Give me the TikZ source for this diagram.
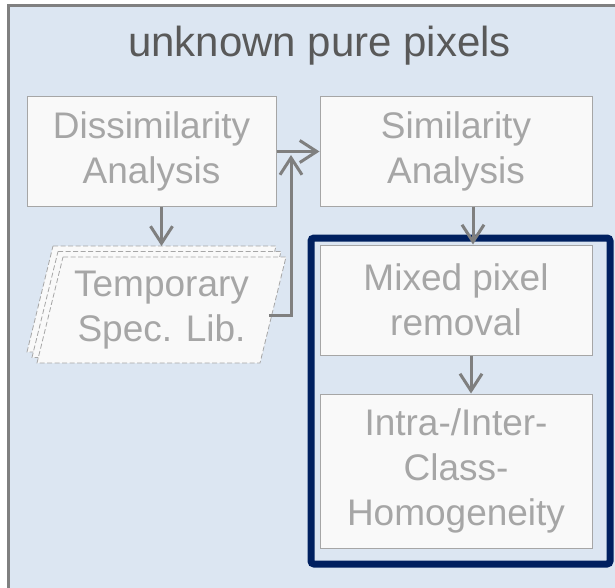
\documentclass[tikz,border=0pt]{standalone}
\usepackage{fontspec}
\setmainfont{Liberation Sans}
\usetikzlibrary{arrows.meta, positioning}
\definecolor{panelfill}{RGB}{220,230,242}
\definecolor{panelline}{RGB}{128,128,128}
\definecolor{boxfill}{RGB}{249,249,249}
\definecolor{boxline}{RGB}{166,166,166}
\definecolor{boxtext}{RGB}{166,166,166}
\definecolor{titletext}{RGB}{89,89,89}
\definecolor{arrowgray}{RGB}{127,127,127}
\definecolor{framenavy}{RGB}{0,32,96}

\begin{document}
\begin{tikzpicture}[
  x=1pt, y=1pt,
  node distance = 38pt and 43pt,
  box/.style = {
    rectangle, draw=boxline, fill=boxfill, line width=1pt,
    text=boxtext, font=\fontsize{37pt}{45pt}\selectfont, align=center,
    minimum width=272pt, minimum height=110pt, inner sep=0pt
  },
  libsheet/.style = {
    draw=boxline, fill=boxfill, line width=0.8pt,
    dash pattern=on 5pt off 2.5pt
  },
  libtext/.style = {text=boxtext, font=\fontsize{37pt}{45pt}\selectfont, align=center, inner sep=0pt},
  heading/.style = {text=titletext, font=\fontsize{42pt}{50pt}\selectfont, anchor=base},
  arr/.style = {-{Straight Barb[length=17pt, width=22pt]}, line width=3pt, draw=arrowgray}
]
\useasboundingbox (0,0) rectangle (615,-588);
\clip (0,0) rectangle (615,-588);
\draw[fill=panelfill, draw=panelline, line width=2.5pt] (8.5,-5.7) rectangle (640,-620);
\node[heading] (ttl) at (319.5,-57) {unknown pure pixels};

\node[box, minimum width=249pt, minimum height=109pt] (dis) at (151.5,-151.5) {Dissimilarity\\Analysis};
\node[box, minimum height=109pt, right=of dis] (sim) {Similarity\\Analysis};
\node[box, below=of sim] (mix) {Mixed pixel\\removal};
\node[box, minimum height=154pt, below=of mix] (hom) {Intra-/Inter-\\Class-\\Homogeneity};

% stacked library sheets, back to front
\foreach \dx/\dy in {-10/11, -5/5.5, 0/0}
  \draw[libsheet, shift={(161.5+\dx,-310+\dy)}]
    (-98.5,53) -- (124.5,53) -- (98.5,-53) -- (-124.5,-53) -- cycle;
\node[libtext] (lib) at (161.5,-310) {Temporary\\Spec. Lib.};
\coordinate (libtop) at (151.5,-246);
\coordinate (libout) at (269,-315);

\draw[framenavy, line width=7pt, rounded corners=3pt]
  ([shift={(-8.5,6.5)}]mix.north west) rectangle ([shift={(17.5,-15.5)}]hom.south east);

\coordinate (up) at (291,-155);
\draw[arr] (dis) -- (sim);
\draw[arr] (dis.south -| lib.north) -- (lib.north |- libtop);
\draw[arr] (libout) -| (up);
\draw[arr] ([xshift=17pt]sim.south) -- ([xshift=17pt]mix.north);
\draw[arr] ([xshift=15pt]mix.south) -- ([xshift=15pt]hom.north);
\end{tikzpicture}
\end{document}
